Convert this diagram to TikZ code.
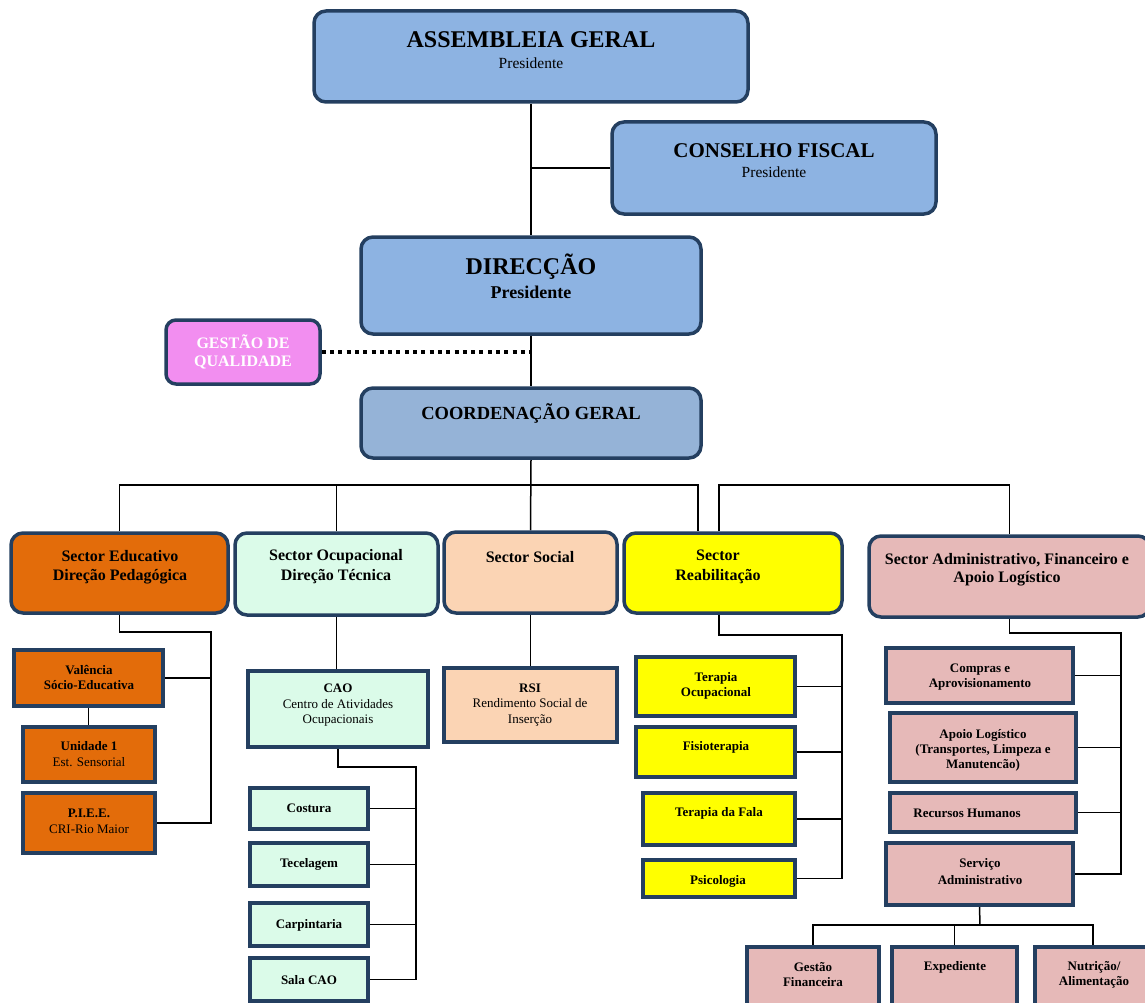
\documentclass[tikz,border=0pt]{standalone}
\usepackage{fontspec}
\setmainfont{Liberation Serif}
\usetikzlibrary{fit,backgrounds}

\definecolor{bord}{HTML}{243F60}
\definecolor{blueA}{HTML}{8DB3E2}
\definecolor{blueB}{HTML}{95B3D7}
\definecolor{pinkQ}{HTML}{F28EF0}
\definecolor{orangeE}{HTML}{E36C0A}
\definecolor{mintO}{HTML}{DBFBE9}
\definecolor{peachS}{HTML}{FBD4B4}
\definecolor{yellowR}{HTML}{FFFF00}
\definecolor{roseA}{HTML}{E6B9B8}

\begin{document}
\begin{tikzpicture}[x=1pt,y=-1pt,
  box/.style={draw=bord, line width=3.5pt, inner sep=0pt},
  rbox/.style={box, rounded corners=12pt},
  conn/.style={draw=black, line width=1.5pt},
  qdots/.style={draw=black, line width=4pt, dash pattern=on 4pt off 4.3pt},
  txt/.style={align=center, inner sep=0pt},
  titleA/.style={txt, font=\bfseries\fontsize{24}{28}\selectfont},
  titleB/.style={txt, font=\bfseries\fontsize{21}{25}\selectfont},
  titleC/.style={txt, font=\bfseries\fontsize{18.5}{22}\selectfont},
  pres/.style={txt, font=\fontsize{15.5}{18}\selectfont},
  presB/.style={txt, font=\bfseries\fontsize{18}{21}\selectfont},
  sect/.style={txt, font=\bfseries\fontsize{16}{19}\selectfont},
  sub/.style={txt, font=\bfseries\fontsize{13}{15}\selectfont},
  subr/.style={txt, font=\fontsize{13}{15.5}\selectfont},
]
\useasboundingbox (0,0) rectangle (1145,1003);
\clip (0,0) rectangle (1145,1003);

% governing bodies
\node[rbox, fill=blueA, fit={(314,11) (748,102)}] (ag) {};
\node[rbox, fill=blueA, fit={(612,122) (936,214)}] (cf) {};
\node[rbox, fill=blueA, fit={(361,237) (701,334)}] (dir) {};
\node[box, rounded corners=10pt, fill=pinkQ, fit={(166,320) (320,384)}] (gq) {};
\node[rbox, fill=blueB, fit={(361,388) (701,458)}] (coord) {};

\node[titleA] (agt) at (531,40) {ASSEMBLEIA GERAL};
\node[pres] (agp) at (531,63) {Presidente};
\node[titleB] (cft) at (774,151) {CONSELHO FISCAL};
\node[pres] (cfp) at (774,172) {Presidente};
\node[titleA] (dirt) at (531,267) {DIRECÇÃO};
\node[presB] (dirp) at (531,292) {Presidente};
\node[sect, text=white, font=\bfseries\fontsize{16}{18}\selectfont] (gqt) at (243,352) {GESTÃO DE\\QUALIDADE};
\node[titleC] (coordt) at (531,413) {COORDENAÇÃO GERAL};

% sectors
\node[rbox, fill=orangeE, fit={(11,533) (228,613)}] (se) {};
\node[rbox, fill=mintO, fit={(235,533) (438,615)}] (so) {};
\node[rbox, fill=peachS, fit={(444,532) (617,613)}] (ss) {};
\node[rbox, fill=yellowR, fit={(624,533) (842,613)}] (sr) {};
\node[rbox, fill=roseA, fit={(869,536) (1150,617)}] (sa) {};

\node[sect] (set) at (120,567) {Sector Educativo\\Direção Pedagógica};
\node[sect, font=\bfseries\fontsize{16}{20}\selectfont] (sot) at (336,567) {Sector Ocupacional\\Direção Técnica};
\node[sect] (sst) at (530,557) {Sector Social};
\node[sect, font=\bfseries\fontsize{16}{20}\selectfont] (srt) at (718,567) {Sector\\Reabilitação};
\node[sect, font=\bfseries\fontsize{16}{18}\selectfont] (sat) at (1007,570) {Sector Administrativo, Financeiro e\\Apoio Logístico};

% educational sector units
\node[box, fill=orangeE, fit={(14,650) (163,706)}] (val) {};
\node[box, fill=orangeE, fit={(23,727) (155,782)}] (un1) {};
\node[box, fill=orangeE, fit={(23,793) (155,853)}] (piee) {};
\node[sub] (valt) at (89,677.5) {Valência\\Sócio-Educativa};
\node[subr] (un1t) at (89,754) {\textbf{Unidade 1}\\Est. Sensorial};
\node[subr] (pieet) at (89,821.5) {\textbf{P.I.E.E.}\\CRI-Rio Maior};

% occupational sector units
\node[box, fill=mintO, fit={(248,671) (428,747)}] (cao) {};
\node[box, fill=mintO, fit={(250,788) (368,829)}] (cos) {};
\node[box, fill=mintO, fit={(250,843) (368,886)}] (tec) {};
\node[box, fill=mintO, fit={(250,903) (368,946)}] (car) {};
\node[box, fill=mintO, fit={(250,958) (368,1001)}] (sal) {};
\node[subr] (caot) at (338,705.5) {\textbf{CAO}\\Centro de Atividades\\Ocupacionais};
\node[sub] (cost) at (309,808) {Costura};
\node[sub] (tect) at (309,864) {Tecelagem};
\node[sub] (cart) at (309,925) {Carpintaria};
\node[sub] (salt) at (309,980) {Sala CAO};

% social sector unit
\node[box, fill=peachS, fit={(444,668) (617,742)}] (rsi) {};
\node[subr] (rsit) at (530,705) {\textbf{RSI}\\Rendimento Social de\\Inserção};

% rehabilitation units
\node[box, fill=yellowR, fit={(636,657) (795,716)}] (to) {};
\node[box, fill=yellowR, fit={(636,727) (795,777)}] (fis) {};
\node[box, fill=yellowR, fit={(643,793) (795,845)}] (fal) {};
\node[box, fill=yellowR, fit={(643,860) (795,897)}] (psi) {};
\node[sub] (tot) at (716,686) {Terapia\\Ocupacional};
\node[sub] (fist) at (716,747) {Fisioterapia};
\node[sub] (falt) at (719,813) {Terapia da Fala};
\node[sub] (psit) at (718,881) {Psicologia};

% administrative units
\node[box, fill=roseA, fit={(886,648) (1073,703)}] (com) {};
\node[box, fill=roseA, fit={(890,713) (1076,782)}] (apl) {};
\node[box, fill=roseA, fit={(890,793) (1076,832)}] (rh) {};
\node[box, fill=roseA, fit={(886,843) (1073,905)}] (serv) {};
\node[box, fill=roseA, fit={(747,947) (879,1012)}] (gf) {};
\node[box, fill=roseA, fit={(892,947) (1017,1012)}] (exp) {};
\node[box, fill=roseA, fit={(1035,947) (1151,1012)}] (nut) {};
\node[sub] (comt) at (980,677.5) {Compras e\\Aprovisionamento};
\node[sub] (aplt) at (983,750) {Apoio Logístico\\(Transportes, Limpeza e\\Manutencão)};
\node[sub] (rht) at (967,813) {Recursos Humanos};
\node[sub, font=\bfseries\fontsize{13}{16.5}\selectfont] (servt) at (980,871.5) {Serviço\\Administrativo};
\node[sub] (gft) at (813,974.5) {Gestão\\Financeira};
\node[sub] (expt) at (955,967) {Expediente};
\node[sub] (nutt) at (1094,974.5) {Nutrição/\\Alimentação};

% connectors
\coordinate (bus) at (531,485);
\coordinate (seR) at (211,632);
\coordinate (caoR) at (416,767);
\coordinate (srR) at (842,635);
\coordinate (saR) at (1121,633);
\coordinate (servB) at (980,925);

\begin{pgfonlayer}{background}
\fill[white] (0,0) rectangle (1145,1003);
\draw[conn] (ag.south) -- (dir.north);
\draw[conn] (cf.west) -- (cf.west -| ag.south);
\draw[conn] (dir.south) -- (coord.north);
\draw[conn] (coord.south) -- (ss.north);
\draw[conn] (se.north) |- ([xshift=-35pt]sr.north |- bus) -- ([xshift=-35pt]sr.north);
\draw[conn] (so.north) -- (so.north |- bus);
\draw[conn] ([xshift=-14pt]sr.north) |- (sa.north |- bus) -- (sa.north);

\draw[conn] (se.south) |- (seR) |- (piee.east);
\draw[conn] (val.east) -- (val.east -| seR);
\draw[conn] (val.south) -- (val.south |- un1.north);

\draw[conn] (so.south) -- (so.south |- cao.north);
\draw[conn] (cao.south) |- (caoR) |- (sal.east);
\draw[conn] (cos.east) -- (cos.east -| caoR);
\draw[conn] (tec.east) -- (tec.east -| caoR);
\draw[conn] (car.east) -- (car.east -| caoR);

\draw[conn] (ss.south) -- (rsi.north);

\draw[conn] ([xshift=-14pt]sr.south) |- (srR) |- (psi.east);
\draw[conn] (to.east) -- (to.east -| srR);
\draw[conn] (fis.east) -- (fis.east -| srR);
\draw[conn] (fal.east) -- (fal.east -| srR);

\draw[conn] (sa.south) |- (saR) |- (serv.east);
\draw[conn] (com.east) -- (com.east -| saR);
\draw[conn] (apl.east) -- (apl.east -| saR);
\draw[conn] (rh.east) -- (rh.east -| saR);

\draw[conn] (serv.south) -- (servB);
\draw[conn] (gf.north) |- (servB) -| (nut.north);
\draw[conn] (exp.north) -- (exp.north |- servB);
\end{pgfonlayer}

\draw[qdots] (gq.east) -- (gq.east -| dir.south);
\end{tikzpicture}
\end{document}
